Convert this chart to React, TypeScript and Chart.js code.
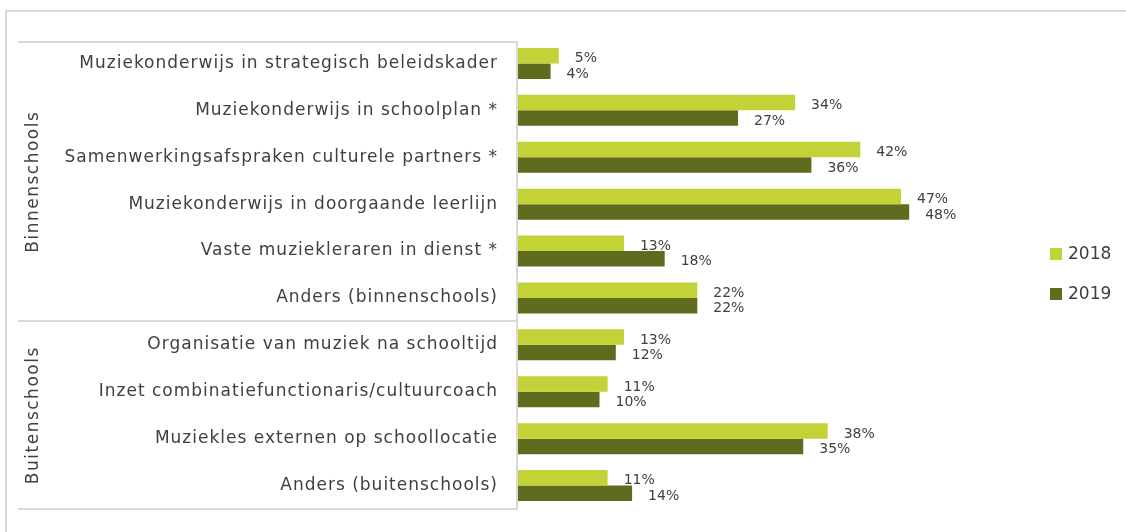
import React, { useEffect, useRef } from "react";
import { Chart, registerables } from "chart.js";

Chart.register(...registerables);

const categories = [
  "Muziekonderwijs in strategisch beleidskader",
  "Muziekonderwijs in schoolplan *",
  "Samenwerkingsafspraken culturele partners *",
  "Muziekonderwijs in doorgaande leerlijn",
  "Vaste muziekleraren in dienst *",
  "Anders (binnenschools)",
  "Organisatie van muziek na schooltijd",
  "Inzet combinatiefunctionaris/cultuurcoach",
  "Muziekles externen op schoollocatie",
  "Anders (buitenschools)",
];
const values2018 = [5, 34, 42, 47, 13, 22, 13, 11, 38, 11];
const values2019 = [4, 27, 36, 48, 18, 22, 12, 10, 35, 14];
const seriesNames = ["2018", "2019"];
const groups = [
  { name: "Binnenschools", from: 0, to: 5 },
  { name: "Buitenschools", from: 6, to: 9 },
];

const COLOR_2018 = "#c2d237";
const COLOR_2019 = "#5f6b1d";
const TEXT = "#404040";
const LINE = "#d9d9d9";
const FONT = "'DejaVu Sans', sans-serif";

const decorPlugin = {
  id: "decor",
  afterDraw(chart: any) {
    const ctx = chart.ctx;
    const area = chart.chartArea;
    const y = chart.scales.y;
    ctx.save();
    // outer frame
    ctx.strokeStyle = LINE;
    ctx.lineWidth = 2;
    ctx.beginPath();
    ctx.moveTo(6, chart.height + 5);
    ctx.lineTo(6, 11);
    ctx.lineTo(chart.width + 5, 11);
    ctx.stroke();

    // group brackets
    const bracketLeft = 18;
    const bounds: number[] = [area.top + 2];
    groups.forEach((g, i) => {
      if (i < groups.length - 1) {
        bounds.push((y.getPixelForValue(g.to) + y.getPixelForValue(groups[i + 1].from)) / 2);
      }
    });
    bounds.push(area.bottom);
    bounds.forEach((b) => {
      ctx.beginPath();
      ctx.moveTo(bracketLeft, Math.round(b));
      ctx.lineTo(area.left, Math.round(b));
      ctx.stroke();
    });
    // vertical axis line
    ctx.beginPath();
    ctx.moveTo(area.left - 1, Math.round(bounds[0]) - 1);
    ctx.lineTo(area.left - 1, Math.round(area.bottom) + 1);
    ctx.stroke();

    // category labels
    ctx.fillStyle = TEXT;
    ctx.font = "17px " + FONT;
    (ctx as any).letterSpacing = "1px";
    ctx.textAlign = "right";
    ctx.textBaseline = "middle";
    categories.forEach((c, i) => {
      ctx.fillText(c, area.left - 20, y.getPixelForValue(i));
    });

    // group labels
    ctx.textAlign = "center";
    (ctx as any).letterSpacing = "1.5px";
    groups.forEach((g, i) => {
      const cy = (bounds[i] + bounds[i + 1]) / 2;
      ctx.save();
      ctx.translate(34, cy);
      ctx.rotate(-Math.PI / 2);
      ctx.fillText(g.name, 0, 0);
      ctx.restore();
    });

    // data labels
    (ctx as any).letterSpacing = "0px";
    ctx.font = "14px " + FONT;
    ctx.textAlign = "left";
    chart.data.datasets.forEach((ds: any, di: number) => {
      const meta = chart.getDatasetMeta(di);
      meta.data.forEach((bar: any, i: number) => {
        const v = ds.data[i];
        ctx.fillText(v + "%", bar.x + 16, bar.y + 3);
      });
    });

    // legend
    ctx.font = "17px " + FONT;
    const legendX = 1050;
    const legendY0 = 254;
    seriesNames.forEach((n, i) => {
      const ly = legendY0 + i * 40;
      ctx.fillStyle = i === 0 ? COLOR_2018 : COLOR_2019;
      ctx.fillRect(legendX, ly - 6, 12, 12);
      ctx.fillStyle = TEXT;
      ctx.fillText(n, legendX + 18, ly + 1);
    });
    ctx.restore();
  },
};

export default function App() {
  const ref = useRef<HTMLCanvasElement | null>(null);
  useEffect(() => {
    if (!ref.current) return;
    const chart = new Chart(ref.current, {
      type: "bar",
      data: {
        labels: categories,
        datasets: [
          {
            label: seriesNames[0],
            data: values2018,
            backgroundColor: COLOR_2018,
            categoryPercentage: 0.66,
            barPercentage: 1,
          },
          {
            label: seriesNames[1],
            data: values2019,
            backgroundColor: COLOR_2019,
            categoryPercentage: 0.66,
            barPercentage: 1,
          },
        ],
      },
      options: {
        indexAxis: "y",
        responsive: false,
        animation: false,
        layout: { padding: { top: 40, bottom: 23, right: 119, left: 0 } },
        plugins: { legend: { display: false }, tooltip: { enabled: false } },
        scales: {
          x: { display: false, min: 0, max: 60 },
          y: {
            afterFit: (scale: any) => {
              scale.width = 518;
            },
            grid: { display: false, drawTicks: false },
            border: { display: false },
            ticks: { display: false },
          },
        },
      },
      plugins: [decorPlugin],
    });
    return () => chart.destroy();
  }, []);
  return (
    <div style={{ position: "fixed", left: 0, top: 0, width: 1126, height: 532, background: "#fff" }}>
      <canvas ref={ref} width={1126} height={532} style={{ width: 1126, height: 532, display: "block" }} />
    </div>
  );
}
